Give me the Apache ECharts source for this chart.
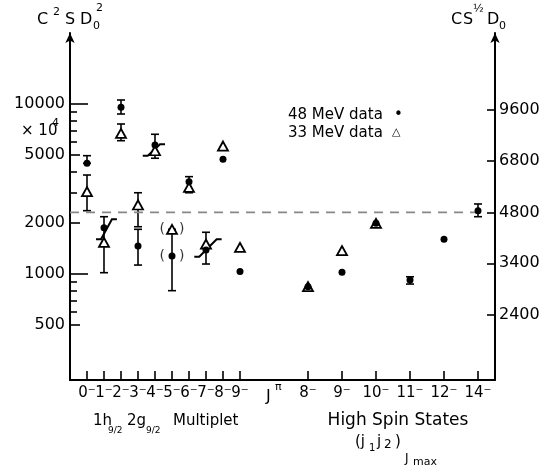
<!DOCTYPE html>
<html><head><meta charset="utf-8">
<script src="https://cdn.jsdelivr.net/npm/echarts@6/dist/echarts.min.js"></script>
<style>html,body{margin:0;padding:0;background:#fff}#c{width:554px;height:476px}</style>
</head><body><div id="c"></div>
<script>
// x slots (category axis); empty strings are spacer slots
const categories = ['', '0⁻','1⁻','2⁻','3⁻','4⁻','5⁻','6⁻','7⁻','8⁻','9⁻','', '', '', '8⁻','', '9⁻','', '10⁻','', '11⁻','', '12⁻','', '14⁻',''];
// 48 MeV data (dots), C^2 S D0^2 (x10^4)
const dot48 = [null,4480,1874,9560,1462,5740,1276,3490,1384,4730,1036,null,null,null,842,null,1023,null,1987,null,922,null,1600,null,2358,null];
// 33 MeV data (triangles)
const tri33 = [null,3050,1537,6720,2547,5310,1832,3236,1500,5660,1436,null,null,null,842,null,1371,null,1987,null,null,null,null,null,null,null];
// error bars [slot, low, high]
const errBars = [[1,4480,4966],[1,2358,3822],[2,1018,2173],[3,8733,10556],[3,6084,7627],[4,1897,3006],[4,1129,1832],[5,4797,6637],[6,798,1832],[7,3006,3738],[8,1145,1760],[20,873,963],[24,2173,2582]];
// slash marks [x0, y0, x1, y1] in slot units
const slashes = [[1.53,1600,2.76,2099],[4.28,4966,5.59,5794],[7.31,1265,8.92,1600]];
// bracketed points (slot index)
const parenSlots = [6];
// dashed reference level on right axis (C S^1/2 D0)
const refLevel = 4800;
const refSpan = [0, 24];
// axis ticks
const leftLabels = [500,1000,2000,5000,10000];
const leftMidTicks = [500,2000,5000];
const leftLongTicks = [1000,10000];
const leftMinorTicks = [600,700,800,900,3000,4000,6000,7000,8000,9000];
const rightLabels = [2400,3400,4800,6800,9600];
const leftRange = [238, 26160];
const rightRange = [1543, 16174];
const slotRange = [0, categories.length - 1];

const FAM = 'DejaVu Sans';
const K = '#000';
const AW = 2;
const gridBox = {left:70, right:59, top:33, bottom:96};

function T(text, x, y, size, align) {
  return {type:'text', x:x, y:y, silent:true,
    style:{text:text, fontSize:size, fontFamily:FAM, fill:K, align: align || 'left', verticalAlign:'middle'}};
}

function renderErr(params, api) {
  const x = api.value(0), lo = api.value(1), hi = api.value(2);
  const p1 = api.coord([x, lo]), p2 = api.coord([x, hi]);
  const w = 4, st = {stroke:K, lineWidth:1.6};
  return {type:'group', children:[
    {type:'line', shape:{x1:p1[0],y1:p1[1],x2:p2[0],y2:p2[1]}, style:st},
    {type:'line', shape:{x1:p1[0]-w,y1:p1[1],x2:p1[0]+w,y2:p1[1]}, style:st},
    {type:'line', shape:{x1:p2[0]-w,y1:p2[1],x2:p2[0]+w,y2:p2[1]}, style:st}
  ]};
}
function renderSlash(params, api) {
  const a = api.coord([api.value(0), api.value(1)]);
  const b = api.coord([api.value(2), api.value(3)]);
  const f = 5;
  return {type:'polyline', shape:{points:[[a[0],a[1]],[a[0]+f,a[1]],[b[0]-f,b[1]],[b[0],b[1]]]},
    style:{stroke:K, lineWidth:2, fill:null}};
}

const parenData = [];
parenSlots.forEach(i => { parenData.push([i, dot48[i]]); parenData.push([i, tri33[i]]); });
const plain = v => String(v);

const option = {
  animation:false,
  backgroundColor:'#fff',
  grid:[Object.assign({}, gridBox), Object.assign({}, gridBox), Object.assign({}, gridBox)],
  xAxis:[
    {type:'category', data:categories, boundaryGap:false, gridIndex:0,
      axisLine:{show:true, lineStyle:{color:K, width:AW}},
      axisTick:{show:true, inside:true, length:9, lineStyle:{color:K, width:1.6},
        interval:(i, v) => v !== ''},
      axisLabel:{interval:0, color:K, fontFamily:FAM, fontSize:15, margin:6},
      splitLine:{show:false}},
    {type:'value', gridIndex:1, min:slotRange[0], max:slotRange[1], show:false},
    {type:'category', data:categories, boundaryGap:false, gridIndex:2, show:false}
  ],
  yAxis:[
    {type:'log', gridIndex:0, position:'left', min:leftRange[0], max:leftRange[1],
      axisLine:{show:true, symbol:['none','arrow'], symbolSize:[7,10], lineStyle:{color:K, width:AW}},
      axisTick:{show:true, inside:true, length:10, customValues:leftMidTicks, lineStyle:{color:K, width:1.6}},
      axisLabel:{customValues:leftLabels, formatter:plain, color:K, fontFamily:FAM, fontSize:16, margin:5},
      splitLine:{show:false}, minorTick:{show:false}},
    {type:'log', gridIndex:0, position:'right', min:rightRange[0], max:rightRange[1],
      axisLine:{show:true, symbol:['none','arrow'], symbolSize:[7,10], lineStyle:{color:K, width:AW}},
      axisTick:{show:true, inside:true, length:8, customValues:rightLabels, lineStyle:{color:K, width:1.6}},
      axisLabel:{customValues:rightLabels, formatter:plain, color:K, fontFamily:FAM, fontSize:16, margin:4},
      splitLine:{show:false}},
    {type:'log', gridIndex:1, position:'left', min:leftRange[0], max:leftRange[1],
      axisLine:{show:false},
      axisTick:{show:true, inside:true, length:18, customValues:leftLongTicks, lineStyle:{color:K, width:1.6}},
      axisLabel:{show:false}, splitLine:{show:false}},
    {type:'log', gridIndex:2, position:'left', min:leftRange[0], max:leftRange[1],
      axisLine:{show:false},
      axisTick:{show:true, inside:true, length:7, customValues:leftMinorTicks, lineStyle:{color:K, width:1.6}},
      axisLabel:{show:false}, splitLine:{show:false}}
  ],
  series:[
    {type:'line', xAxisIndex:0, yAxisIndex:1, data:[[refSpan[0], refLevel],[refSpan[1], refLevel]],
      symbol:'none', lineStyle:{color:'#888', width:1.6, type:[9,7]}, silent:true},
    {type:'custom', xAxisIndex:0, yAxisIndex:0, data:errBars, renderItem:renderErr, encode:{x:0, y:[1,2]}, silent:true},
    {type:'custom', xAxisIndex:1, yAxisIndex:2, data:slashes, renderItem:renderSlash, encode:{x:[0,2], y:[1,3]}, silent:true, z:3},
    {type:'scatter', name:'33 MeV data', xAxisIndex:0, yAxisIndex:0, data:tri33, symbol:'triangle', symbolSize:[10,9],
      itemStyle:{color:'#fff', borderColor:K, borderWidth:1.8, opacity:1}, z:4},
    {type:'scatter', name:'48 MeV data', xAxisIndex:0, yAxisIndex:0, data:dot48, symbol:'circle', symbolSize:7,
      itemStyle:{color:K, opacity:1}, z:5},
    {type:'scatter', xAxisIndex:0, yAxisIndex:0, data:parenData, symbolSize:1, itemStyle:{color:'rgba(0,0,0,0)'},
      label:{show:true, position:'inside', formatter:'(\u2002\u2002)', color:K, fontFamily:FAM, fontSize:14}, z:5}
  ],
  graphic:[
    // left axis title C^2 S D0^2
    T('C', 37, 20, 16), T('2', 53, 12, 11), T('S', 65, 20, 16), T('D', 80, 20, 16), T('2', 96, 8, 11), T('0', 93, 26, 11),
    // right axis title C S^1/2 D0
    T('C', 451, 20, 16), T('S', 463, 20, 16), T('½', 473, 9, 11), T('D', 487, 20, 16), T('0', 499, 26, 11),
    // x 10^4
    T('× 10', 21, 131, 15), T('4', 52, 123, 11),
    // J^pi
    T('J', 266, 397, 16), T('π', 275, 387, 11),
    // multiplet label
    T('1h', 93, 421, 15), T('9/2', 108, 431, 9), T('2g', 127, 421, 15), T('9/2', 146, 431, 9), T('Multiplet', 173, 421, 15),
    // high spin label
    T('High Spin States', 398, 421, 17, 'center'),
    T('(j', 355, 442, 15), T('1', 369, 448, 10), T('j', 377, 442, 15), T('2', 384, 445, 12), T(')', 395, 442, 15),
    T('J', 405, 459, 12), T('max', 413, 462, 11),
    // legend
    T('48 MeV data', 288, 115, 15), T('•', 394, 115, 15),
    T('33 MeV data', 288, 133, 15), T('△', 392, 132, 11)
  ]
};
echarts.init(document.getElementById('c')).setOption(option);
</script>
</body></html>
